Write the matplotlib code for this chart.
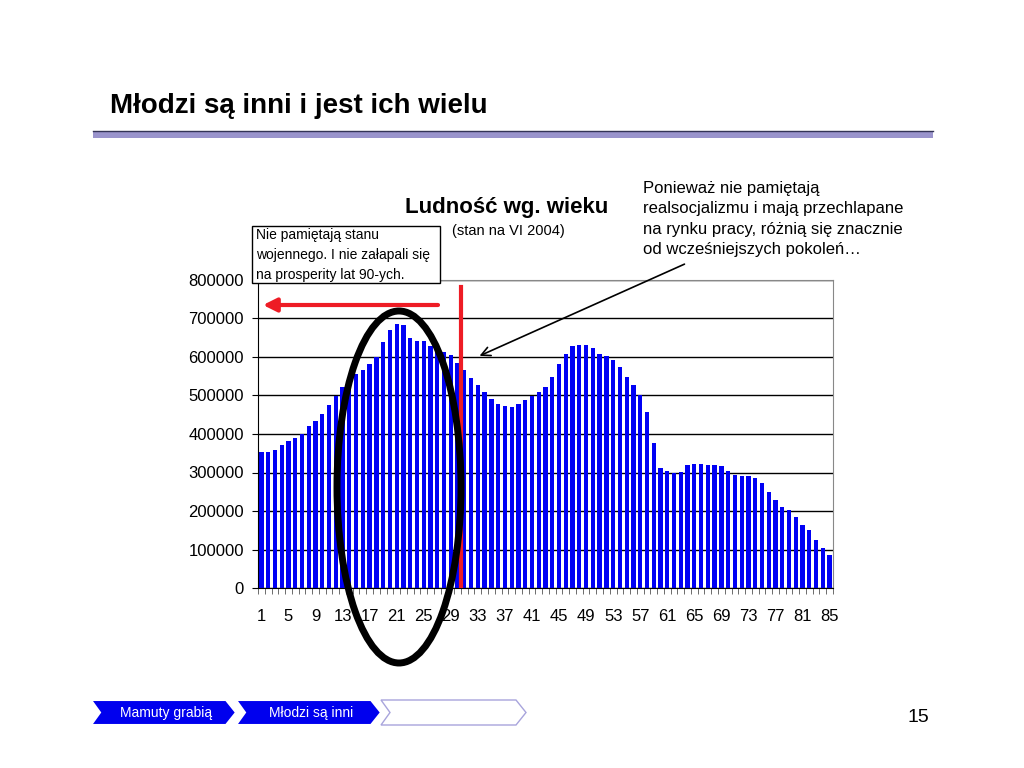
import numpy as np
import matplotlib
matplotlib.use('Agg')
import matplotlib.pyplot as plt
from matplotlib import font_manager as fm
from matplotlib.patches import Ellipse, Polygon


# population by age (VI 2004)
ages = list(range(1, 86))
population = [
    354000, 354000, 359000, 371000, 381000, 390000, 401000, 420000, 434000, 453000,
    476000, 498000, 522000, 544000, 555000, 567000, 581000, 600000, 638000, 670000,
    685000, 682000, 650000, 642000, 642000, 628000, 614000, 612000, 604000, 585000,
    566000, 545000, 526000, 509000, 492000, 479000, 473000, 471000, 479000, 488000,
    499000, 509000, 521000, 548000, 581000, 609000, 628000, 631000, 631000, 623000,
    609000, 603000, 593000, 575000, 548000, 526000, 501000, 458000, 376000, 312000,
    304000, 298000, 301000, 319000, 323000, 322000, 319000, 319000, 316000, 304000,
    293000, 291000, 291000, 285000, 272000, 249000, 229000, 210000, 202000, 185000,
    163000, 150000, 125000, 103000, 86000,
]
yticks = [0, 100000, 200000, 300000, 400000, 500000, 600000, 700000, 800000]
xlabels = ages[::4]
cutoff_age = 30.5

title = 'Młodzi są inni i jest ich wielu'
chart_title = 'Ludność wg. wieku'
chart_sub = '(stan na VI 2004)'
box_note = 'Nie pamiętają stanu\nwojennego. I nie załapali się\nna prosperity lat 90-ych.'
right_note = ('Ponieważ nie pamiętają\nrealsocjalizmu i mają przechlapane\n'
              'na rynku pracy, różnią się znacznie\nod wcześniejszych pokoleń…')
nav_labels = ['Mamuty grabią', 'Młodzi są inni', '']
page_no = '15'

names = {f.name for f in fm.fontManager.ttflist}
plt.rcParams['font.family'] = ['Liberation Sans', 'DejaVu Sans']
title_font = 'Liberation Sans Narrow' if 'Liberation Sans Narrow' in names else 'Liberation Sans'

fig = plt.figure(figsize=(10.24, 7.68), dpi=100)

# main chart
ax = fig.add_axes([258 / 1024, 1 - 588 / 768, 575 / 1024, 308 / 768])
ax.bar(ages, population, width=0.63, color='#0000f4', zorder=2)
ax.set_xlim(0.5, 85.5)
ax.set_ylim(0, 800000)
ax.set_yticks(yticks)
ax.set_yticklabels([str(v) for v in yticks], fontsize=12)
ax.yaxis.grid(True, color='black', lw=1, zorder=1)
ax.set_xticks(xlabels)
ax.set_xticklabels([str(a) for a in xlabels], fontsize=12)
ax.set_xticks(np.arange(0.5, 86, 1), minor=True)
ax.tick_params(axis='x', which='major', length=0, pad=15)
ax.tick_params(axis='x', which='minor', length=4, color='#555555', direction='out')
ax.tick_params(axis='y', length=4, pad=6, direction='out')
for s in ['top', 'right']:
    ax.spines[s].set_color('#888888')
ax.axvline(cutoff_age, ymin=0, ymax=0.977, color='#ee1c25', lw=3, zorder=3)

# overlay in pixel coordinates for slide decorations
ov = fig.add_axes([0, 0, 1, 1], zorder=5)
ov.set_xlim(0, 1024)
ov.set_ylim(768, 0)
ov.axis('off')
ov.patch.set_alpha(0)

ov.text(110, 106, title, fontsize=20, fontweight='bold', family=title_font,
        va='center', ha='left')
ov.fill_between([93, 933], 131, 137.5, color='#9a94cc', lw=0)
ov.plot([93, 933], [130.5, 130.5], color='#333355', lw=1)

ov.text(507, 208, chart_title, fontsize=16, fontweight='bold', ha='center', va='center')
ov.text(508, 231, chart_sub, fontsize=10.5, ha='center', va='center')

ov.add_patch(Polygon([[252, 226], [440, 226], [440, 283], [252, 283]], closed=True,
                     fc='white', ec='black', lw=1))
ov.text(256, 255, box_note, fontsize=10, ha='left', va='center', linespacing=1.5)

ov.text(643, 219, right_note, fontsize=12, ha='left', va='center', linespacing=1.47)
ov.annotate('', xy=(477, 357), xytext=(687, 263),
            arrowprops=dict(arrowstyle='->', lw=1.2, color='black', mutation_scale=16))

ov.annotate('', xy=(263, 305), xytext=(438, 305),
            arrowprops=dict(arrowstyle='-|>', lw=3, color='#ee1c25', mutation_scale=20,
                            shrinkA=0, shrinkB=0))

ov.add_patch(Ellipse((399, 487), 124, 352, fill=False, ec='black', lw=5))

# navigation chevrons
x0, w, top, bot, notch, tip = 91, 145, 700, 725, 9, 10
for i, lab in enumerate(nav_labels):
    xs = x0 + i * w
    pts = [[xs, top], [xs + w - tip, top], [xs + w, (top + bot) / 2],
           [xs + w - tip, bot], [xs, bot], [xs + notch, (top + bot) / 2]]
    if lab:
        ov.add_patch(Polygon(pts, closed=True, fc='#0000ee', ec='white', lw=1.5))
        ov.text(xs + w / 2 + 3, 713, lab, color='white', fontsize=10, ha='center', va='center')
    else:
        ov.add_patch(Polygon(pts, closed=True, fc='white', ec='#a8a4dc', lw=1))

ov.text(918, 717, page_no, fontsize=14, ha='center', va='center')

fig.savefig('out.png', dpi=100)
